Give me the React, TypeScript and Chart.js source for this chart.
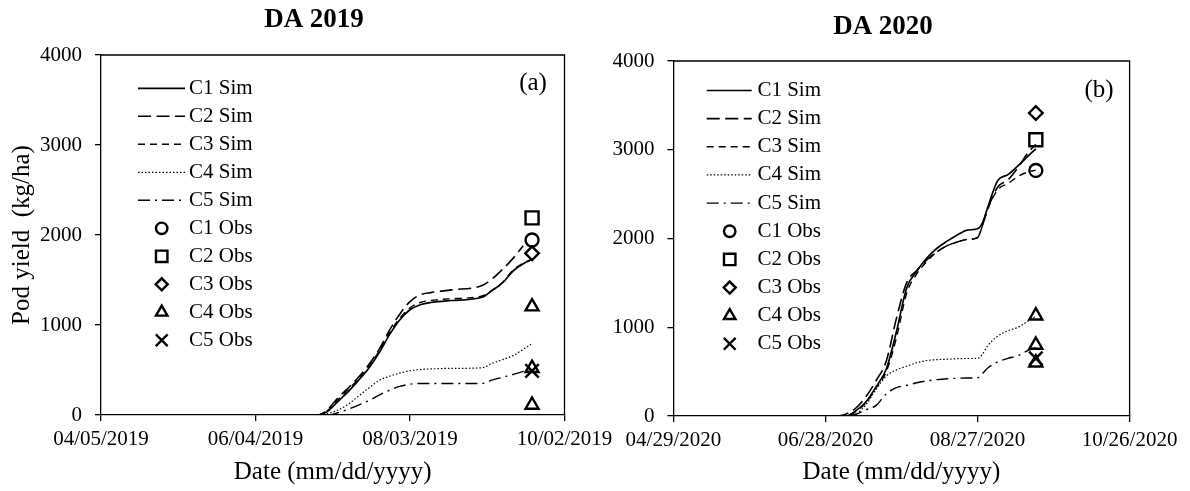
import React, { useEffect, useRef } from 'react';
import { Chart, registerables } from 'chart.js';

Chart.register(...registerables);

const FONT = "'Liberation Serif', 'Times New Roman', Times, serif";

// ---------- labels ----------
const simLabels = ['C1 Sim', 'C2 Sim', 'C3 Sim', 'C4 Sim', 'C5 Sim'];
const obsLabels = ['C1 Obs', 'C2 Obs', 'C3 Obs', 'C4 Obs', 'C5 Obs'];
const xTicks2019 = ['04/05/2019', '06/04/2019', '08/03/2019', '10/02/2019'];
const xTicks2020 = ['04/29/2020', '06/28/2020', '08/27/2020', '10/26/2020'];

// ---------- DA 2019 (days after 04/05/2019) ----------
const days2019 = [32, 80, 84, 88, 92, 96, 100, 104, 108, 112, 116, 120, 124, 128, 136, 148, 152, 156, 160, 164, 167];
const c1Sim2019 = [0, 0, 0, 40, 150, 260, 385, 520, 690, 890, 1055, 1170, 1225, 1250, 1272, 1308, 1385, 1470, 1600, 1680, 1725];
const c2Sim2019 = [0, 0, 0, 60, 190, 300, 420, 560, 730, 940, 1120, 1260, 1335, 1360, 1390, 1440, 1515, 1620, 1740, 1880, null];
const c3Sim2019 = [0, 0, 0, 50, 170, 285, 400, 540, 710, 910, 1075, 1190, 1250, 1272, 1292, 1322, 1390, 1475, 1610, 1690, 1725];
const c4Sim2019 = [0, 0, 0, 15, 55, 120, 210, 300, 385, 430, 465, 492, 505, 512, 518, 525, 575, 615, 660, 730, 785];
const c5Sim2019 = [0, 0, 0, 0, 25, 65, 110, 160, 220, 275, 318, 342, 350, 350, 350, 350, 390, 420, 450, 485, 505];
const obsDay2019 = 167.4;
const c1Obs2019 = [1944];
const c2Obs2019 = [2190];
const c3Obs2019 = [1796];
const c4Obs2019 = [1204, 520, 111];
const c5Obs2019 = [490];

// ---------- DA 2020 (days after 04/29/2020) ----------
const days2020 = [13, 64, 68, 72, 76, 80, 84, 88, 92, 96, 100, 104, 108, 112, 116, 120, 122, 124, 128, 132, 136, 140, 143];
const c1Sim2020 = [0, 0, 0, 60, 160, 330, 530, 950, 1440, 1630, 1780, 1890, 1970, 2040, 2095, 2110, 2180, 2350, 2655, 2720, 2820, 2930, 3010];
const c2Sim2020 = [0, 0, 20, 90, 220, 400, 620, 1100, 1500, 1640, 1760, 1850, 1920, 1960, 1990, 2010, 2150, 2330, 2580, 2660, 2800, 2970, 3060];
const c3Sim2020 = [0, 0, 0, 50, 150, 320, 500, 880, 1380, 1600, 1740, 1850, 1920, 1960, 1990, 2010, 2150, 2330, 2550, 2620, 2700, 2750, 2770];
const c4Sim2020 = [0, 0, 0, 20, 130, 300, 450, 520, 560, 600, 625, 635, 640, 645, 648, 650, 700, 790, 900, 960, 1000, 1070, 1125];
const c5Sim2020 = [0, 0, 0, 20, 70, 120, 250, 320, 345, 375, 395, 410, 420, 425, 428, 430, 480, 540, 610, 650, 680, 740, 770];
const obsDay2020 = 143;
const c1Obs2020 = [2767];
const c2Obs2020 = [3113];
const c3Obs2020 = [3414];
const c4Obs2020 = [1130, 800, 600];
const c5Obs2020 = [650];

// ---------- styles ----------
const simStyles = [
  { dash: [] as number[], width: 1.7 },
  { dash: [13, 5.5], width: 1.6 },
  { dash: [7, 5], width: 1.4 },
  { dash: [1.5, 2], width: 1.2 },
  { dash: [12, 5, 2, 5], width: 1.4 },
];
const obsStyles = [
  { style: 'circle', r: 6.5 },
  { style: 'rect', r: 9.2 },
  { style: 'rectRot', r: 6.8 },
  { style: 'triangle', r: 7.5 },
  { style: 'crossRot', r: 9.5 },
];
const markerStroke = 2.4;

type Panel = {
  title: string; tag: string; tickLabels: string[];
  days: number[]; sims: (number | null)[][]; obsDay: number; obs: number[][];
  showYTitle: boolean;
  pageX: number; canvasW: number; yAxisW: number; xAxisH: number; padTop: number; padRight: number;
  titleX: number; titleY: number; tagX: number; tagY: number;
  leg: { top: number; step: number; x0: number; x1: number; tx: number; mx: number };
};

const panels: Panel[] = [
  {
    title: 'DA 2019', tag: '(a)', tickLabels: xTicks2019,
    days: days2019, sims: [c1Sim2019, c2Sim2019, c3Sim2019, c4Sim2019, c5Sim2019],
    obsDay: obsDay2019, obs: [c1Obs2019, c2Obs2019, c3Obs2019, c4Obs2019, c5Obs2019],
    showYTitle: true,
    pageX: 0, canvasW: 620, yAxisW: 101, xAxisH: 76, padTop: 55, padRight: 55.5,
    titleX: 314, titleY: 20, tagX: 533, tagY: 83,
    leg: { top: 33.3, step: 28, x0: 37, x1: 84, tx: 88, mx: 60.7 },
  },
  {
    title: 'DA 2020', tag: '(b)', tickLabels: xTicks2020,
    days: days2020, sims: [c1Sim2020, c2Sim2020, c3Sim2020, c4Sim2020, c5Sim2020],
    obsDay: obsDay2020, obs: [c1Obs2020, c2Obs2020, c3Obs2020, c4Obs2020, c5Obs2020],
    showYTitle: false,
    pageX: 590, canvasW: 600, yAxisW: 83.4, xAxisH: 75, padTop: 61, padRight: 60.4,
    titleX: 293, titleY: 27, tagX: 509, tagY: 90,
    leg: { top: 29.5, step: 28.15, x0: 33.3, x1: 78.3, tx: 84, mx: 56.3 },
  },
];

function drawMarker(ctx: CanvasRenderingContext2D, style: string, x: number, y: number, r: number) {
  ctx.beginPath();
  if (style === 'circle') {
    ctx.arc(x, y, r, 0, Math.PI * 2);
    ctx.closePath();
  } else if (style === 'rect') {
    const s = r * Math.SQRT1_2;
    ctx.rect(x - s, y - s, 2 * s, 2 * s);
  } else if (style === 'rectRot') {
    ctx.moveTo(x - r, y); ctx.lineTo(x, y - r); ctx.lineTo(x + r, y); ctx.lineTo(x, y + r);
    ctx.closePath();
  } else if (style === 'triangle') {
    ctx.moveTo(x, y - r);
    ctx.lineTo(x + r * Math.sin((2 * Math.PI) / 3), y - r * Math.cos((2 * Math.PI) / 3));
    ctx.lineTo(x + r * Math.sin((4 * Math.PI) / 3), y - r * Math.cos((4 * Math.PI) / 3));
    ctx.closePath();
  } else {
    const o = r * Math.SQRT1_2;
    ctx.moveTo(x - o, y - o); ctx.lineTo(x + o, y + o);
    ctx.moveTo(x + o, y - o); ctx.lineTo(x - o, y + o);
  }
  ctx.stroke();
}

function makeDecor(p: Panel) {
  return {
    id: 'panelDecor',
    afterDraw(chart: any) {
      const { ctx, chartArea: a } = chart;
      ctx.save();
      ctx.strokeStyle = '#000';
      ctx.fillStyle = '#000';
      ctx.lineWidth = 1.3;
      ctx.setLineDash([]);
      ctx.beginPath();
      ctx.moveTo(a.left, a.top);
      ctx.lineTo(a.right, a.top);
      ctx.lineTo(a.right, a.bottom);
      ctx.stroke();

      ctx.textAlign = 'center';
      ctx.textBaseline = 'middle';
      ctx.font = `bold 27px ${FONT}`;
      ctx.fillText(p.title, p.titleX, p.titleY);
      ctx.font = `25px ${FONT}`;
      ctx.fillText(p.tag, p.tagX, p.tagY);

      // legend
      const L = p.leg;
      ctx.font = `21px ${FONT}`;
      ctx.textAlign = 'left';
      const ds = chart.data.datasets;
      for (let i = 0; i < ds.length; i++) {
        const d = ds[i];
        const y = a.top + L.top + i * L.step;
        if (i < simStyles.length) {
          ctx.save();
          ctx.lineWidth = d.borderWidth;
          ctx.setLineDash(d.borderDash || []);
          ctx.beginPath();
          ctx.moveTo(a.left + L.x0, y);
          ctx.lineTo(a.left + L.x1, y);
          ctx.stroke();
          ctx.restore();
        } else {
          ctx.save();
          ctx.lineWidth = markerStroke;
          ctx.setLineDash([]);
          drawMarker(ctx, d.pointStyle, a.left + L.mx, y, d.pointRadius * 0.88);
          ctx.restore();
        }
        ctx.fillText(d.label, a.left + L.tx, y);
      }
      ctx.restore();
    },
  };
}

function buildConfig(p: Panel): any {
  const datasets: any[] = [
    ...p.sims.map((vals, i) => ({
      type: 'line',
      label: simLabels[i],
      data: p.days.map((d, k) => ({ x: d, y: vals[k] })),
      borderColor: '#000',
      backgroundColor: '#000',
      borderWidth: simStyles[i].width,
      borderDash: simStyles[i].dash,
      pointRadius: 0,
      pointHoverRadius: 0,
      fill: false,
      cubicInterpolationMode: 'monotone',
    })),
    ...p.obs.map((vals, i) => ({
      type: 'line',
      label: obsLabels[i],
      showLine: false,
      data: vals.map((v) => ({ x: p.obsDay, y: v })),
      borderColor: '#000',
      backgroundColor: 'rgba(0,0,0,0)',
      pointStyle: obsStyles[i].style,
      pointRadius: obsStyles[i].r,
      pointHoverRadius: obsStyles[i].r,
      pointBorderWidth: markerStroke,
      pointBorderColor: '#000',
      pointBackgroundColor: 'rgba(0,0,0,0)',
    })),
  ];
  const grid = { drawOnChartArea: false, drawTicks: true, tickLength: 6, color: '#000', lineWidth: 1.3 };
  const border = { display: true, color: '#000', width: 1.3 };
  return {
    type: 'line',
    data: { datasets },
    options: {
      responsive: true,
      maintainAspectRatio: false,
      animation: false,
      events: [],
      layout: { padding: { top: p.padTop, right: p.padRight, left: 0, bottom: 0 } },
      plugins: { legend: { display: false }, tooltip: { enabled: false }, title: { display: false } },
      scales: {
        x: {
          type: 'linear',
          min: 0,
          max: 180,
          ticks: {
            stepSize: 60,
            autoSkip: false,
            maxRotation: 0,
            color: '#000',
            padding: 6,
            font: { family: FONT, size: 21 },
            callback: (v: number) => p.tickLabels[Math.round(v / 60)] ?? '',
          },
          grid,
          border,
          title: {
            display: true,
            text: 'Date (mm/dd/yyyy)',
            color: '#000',
            font: { family: FONT, size: 25 },
            padding: { top: 0, bottom: 4 },
          },
          afterFit: (s: any) => { s.height = p.xAxisH; },
        },
        y: {
          type: 'linear',
          min: 0,
          max: 4000,
          ticks: {
            stepSize: 1000,
            color: '#000',
            padding: 13,
            font: { family: FONT, size: 21 },
            callback: (v: number) => String(v),
          },
          grid,
          border,
          title: {
            display: p.showYTitle,
            text: 'Pod yield  (kg/ha)',
            color: '#000',
            font: { family: FONT, size: 25 },
            padding: { top: 7, bottom: 0 },
          },
          afterFit: (s: any) => { s.width = p.yAxisW; },
        },
      },
    },
    plugins: [makeDecor(p)],
  };
}

function PanelChart({ p }: { p: Panel }) {
  const ref = useRef<HTMLCanvasElement>(null);
  useEffect(() => {
    const chart = new Chart(ref.current as HTMLCanvasElement, buildConfig(p));
    return () => chart.destroy();
  }, [p]);
  return (
    <div style={{ position: 'absolute', left: p.pageX, top: 0, width: p.canvasW, height: 491 }}>
      <canvas ref={ref} />
    </div>
  );
}

export default function App() {
  return (
    <div style={{ position: 'absolute', left: 0, top: 0, width: 1190, height: 491, background: '#fff', overflow: 'hidden' }}>
      {panels.map((p) => (
        <PanelChart key={p.title} p={p} />
      ))}
    </div>
  );
}
